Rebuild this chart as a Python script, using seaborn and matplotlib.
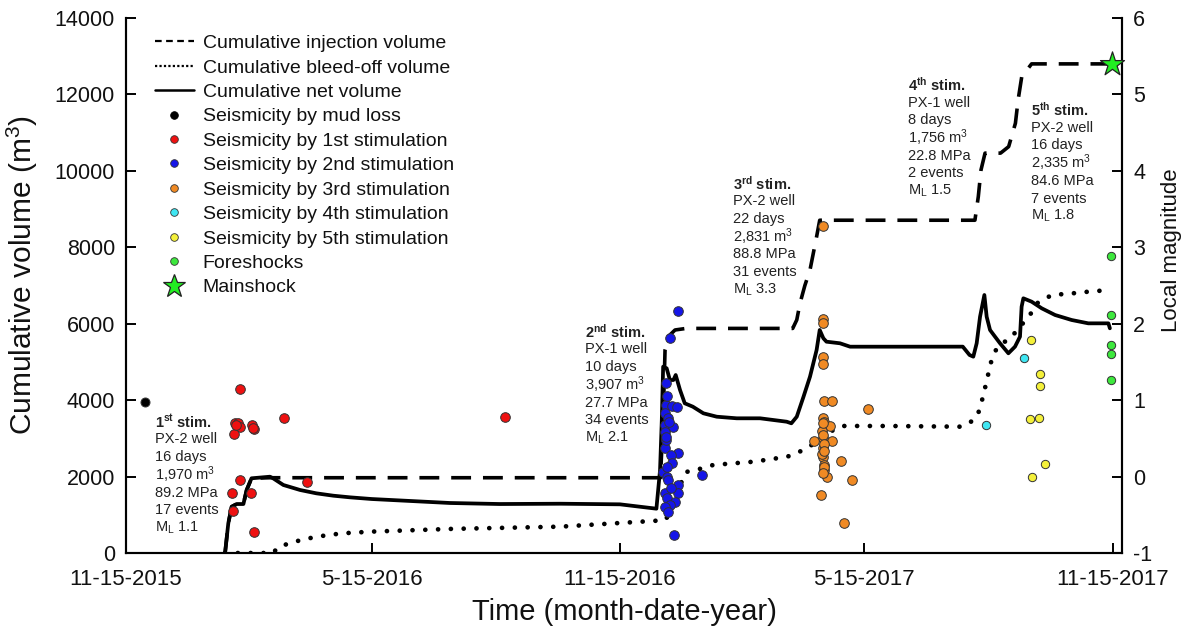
import numpy as np
import pandas as pd
import matplotlib
matplotlib.use("Agg")
import matplotlib.pyplot as plt
from matplotlib.lines import Line2D
from matplotlib.ticker import FixedLocator, FixedFormatter
import matplotlib.dates as mdates
import seaborn as sns

START = "2015-11-15"

# ---------------- data (days since 11-15-2015) ----------------
tick_dates = ["2015-11-15", "2016-05-15", "2016-11-15", "2017-05-15", "2017-11-15"]
tick_labels = ["11-15-2015", "5-15-2016", "11-15-2016", "5-15-2017", "11-15-2017"]
vol_ticks = [0, 2000, 4000, 6000, 8000, 10000, 12000, 14000]
mag_ticks = [-1, 0, 1, 2, 3, 4, 5, 6]

inj_days = [73.4, 75.8, 78.3, 82, 87, 89.4, 93, 106.7, 396, 398, 399.4, 403, 406.8, 415,
            494, 497, 499.4, 503, 506.8, 511.7, 514, 629, 631.5, 633.5, 636.5, 648, 654,
            659, 661, 663.7, 671, 731]
inj_vol = [0, 777, 1212, 1282, 1282, 1649, 1955, 1970, 1970, 3500, 5312, 5705, 5836, 5877,
           5877, 6100, 6534, 7000, 7406, 8278, 8708, 8708, 9324, 10023, 10464, 10464, 10634,
           11245, 11855, 12465, 12799, 12799]

bleed_days = [73.4, 109, 113, 127, 141, 160, 182, 240, 322, 393, 400, 405, 410, 413, 416, 425,
              435, 450, 465, 490, 502, 512, 524, 532, 564, 618, 625, 631, 635, 638, 641, 645,
              650, 656, 663, 669, 675, 686, 700, 713, 729]
bleed_vol = [0, 0, 165, 314, 427, 515, 560, 630, 690, 845, 870, 1250, 1650, 2041, 2128, 2200,
             2303, 2347, 2389, 2520, 2695, 2913, 3219, 3324, 3324, 3306, 3400, 3600, 4090, 4550,
             5000, 5350, 5500, 5650, 5950, 6184, 6534, 6752, 6790, 6838, 6883]

net_days = [73.4, 75.8, 78.3, 82, 87, 89.4, 93, 106.7, 109, 116.6, 129, 141, 153.6, 166, 182,
            240, 277, 322, 366, 393, 395.7, 397, 398, 400.6, 403, 405.6, 407.3, 410.5, 414, 420,
            427.8, 437.7, 452.5, 469.8, 489.5, 493, 497, 502, 506.8, 511.7, 514, 516.7, 519, 529,
            536.5, 573.5, 620, 625, 627.8, 630.3, 632.8, 636, 637.7, 640.2, 643.9, 647.6, 653.8,
            658.7, 662.4, 663.6, 664.9, 671, 678.5, 688.4, 700.7, 713, 727.9, 729]
net_vol = [0, 777, 1212, 1282, 1282, 1649, 1955, 1997, 1955, 1780, 1649, 1562, 1500, 1457, 1413,
           1309, 1282, 1290, 1274, 1160, 2172, 3480, 4876, 4833, 4527, 4527, 4658, 4266, 3918, 3829,
           3656, 3567, 3525, 3525, 3436, 3394, 3567, 4090, 4614, 5312, 5836, 5619, 5530, 5488,
           5399, 5399, 5400, 5182, 5138, 5488, 6184, 6752, 6184, 5836, 5661, 5488, 5226,
           5400, 5661, 6446, 6665, 6577, 6403, 6228, 6097, 6010, 6010, 5880]

mud_days = [14]
mud_ml = [0.98]
s1_days = [84.5, 117, 80.8, 83, 84.5, 80, 93.4, 94.6, 84.5, 78.8, 92.6, 79.5, 94.6, 133.9, 281,
           81.5, 93.8]
s1_ml = [1.15, 0.76, 0.70, 0.70, 0.65, 0.56, 0.68, 0.62, -0.05, -0.22, -0.21, -0.45, -0.73, -0.07,
         0.78, 0.68, 0.64]
s2_days = [409.3, 403, 400, 400, 404.3, 408.5, 399.4, 401.8, 399.4, 405, 399.4, 399.4, 409.3,
           403.5, 404.3, 397.7, 401, 401.8, 426.6, 409.3, 409.3, 399.4, 400.6, 406.8, 403,
           399.4, 401.8, 406, 400.5, 402, 399.8, 401.2, 403.8, 400.2]
s2_ml = [2.16, 1.81, 1.23, 0.94, 0.92, 0.91, 0.83, 0.76, 0.67, 0.65, 0.58, 0.37, 0.31, 0.28, 0.18,
         0.06, 0.0, -0.05, 0.02, -0.11, -0.21, -0.21, -0.28, -0.33, -0.37, -0.40, -0.46, -0.76,
         1.05, 0.72, 0.48, 0.12, -0.15, 0.52]
s3_days = [516.2, 516.7, 516.7, 516.2, 516.2, 517.2, 523.4, 550, 516.7, 517.4, 521.6, 515.4,
           516.7, 510, 523.4, 516.7, 516.7, 529.8, 517.2, 517.2, 519.2, 538.2, 515, 532,
           516.5, 517, 516, 517.5, 516.8, 517.1, 516.4]
s3_ml = [3.28, 2.06, 2.01, 1.57, 1.47, 0.99, 0.99, 0.89, 0.76, 0.72, 0.66, 0.59, 0.50, 0.46, 0.46,
         0.37, 0.26, 0.21, 0.15, 0.09, 0.0, -0.05, -0.24, -0.61, 0.55, 0.42, 0.30, 0.12, 0.70,
         0.33, 0.05]
s4_days = [637, 665.4]
s4_ml = [0.67, 1.55]
s5_days = [670.6, 677.2, 677.2, 669.8, 676.7, 681, 671.1]
s5_ml = [1.79, 1.34, 1.18, 0.75, 0.77, 0.16, 0.0]
fore_days = [729.5, 729.5, 729.5, 729.5, 729.5]
fore_ml = [2.88, 2.12, 1.72, 1.61, 1.26]
main_days = [730.5]
main_ml = [5.4]

# annotation blocks: anchor (day, volume) of first line
ann_days = [21.5, 340.1, 450, 579.7, 670.6]
ann_vols = [3436, 5791, 9675, 12248, 11593]
ann_lines = [
    ["1$^{\\mathbf{st}}$ stim.", "PX-2 well", "16 days", "1,970 m$^3$", "89.2 MPa", "17 events", "M$_\\mathrm{L}$ 1.1"],
    ["2$^{\\mathbf{nd}}$ stim.", "PX-1 well", "10 days", "3,907 m$^3$", "27.7 MPa", "34 events", "M$_\\mathrm{L}$ 2.1"],
    ["3$^{\\mathbf{rd}}$ stim.", "PX-2 well", "22 days", "2,831 m$^3$", "88.8 MPa", "31 events", "M$_\\mathrm{L}$ 3.3"],
    ["4$^{\\mathbf{th}}$ stim.", "PX-1 well", "8 days", "1,756 m$^3$", "22.8 MPa", "2 events", "M$_\\mathrm{L}$ 1.5"],
    ["5$^{\\mathbf{th}}$ stim.", "PX-2 well", "16 days", "2,335 m$^3$", "84.6 MPa", "7 events", "M$_\\mathrm{L}$ 1.8"],
]

legend_labels = ["Cumulative injection volume", "Cumulative bleed-off volume", "Cumulative net volume",
                 "Seismicity by mud loss", "Seismicity by 1st stimulation", "Seismicity by 2nd stimulation",
                 "Seismicity by 3rd stimulation", "Seismicity by 4th stimulation", "Seismicity by 5th stimulation",
                 "Foreshocks", "Mainshock"]


def to_dates(days):
    return pd.Timestamp(START) + pd.to_timedelta(np.asarray(days, dtype=float), unit="D")


# ---------------- style ----------------
sns.set_style("ticks")
plt.rcParams["font.family"] = ["Liberation Sans", "DejaVu Sans"]
plt.rcParams["mathtext.fontset"] = "custom"
plt.rcParams["mathtext.rm"] = "Liberation Sans"
plt.rcParams["mathtext.it"] = "Liberation Sans:italic"
plt.rcParams["mathtext.bf"] = "Liberation Sans:bold"
plt.rcParams["mathtext.sf"] = "Liberation Sans"

fig = plt.figure(figsize=(11.92, 6.29), dpi=100)
ax = fig.add_axes([0.1057, 0.1208, 0.8356, 0.8506])
ax2 = ax.twinx()

# lines
sns.lineplot(x=to_dates(inj_days), y=inj_vol, ax=ax, color="black", lw=2.6, estimator=None,
             sort=False, linestyle=(0, (5.5, 3.3)))
sns.lineplot(x=to_dates(bleed_days), y=bleed_vol, ax=ax, color="black", lw=3.4, estimator=None,
             sort=False, linestyle=(0, (0.01, 2.7)), dash_capstyle="round")
sns.lineplot(x=to_dates(net_days), y=net_vol, ax=ax, color="black", lw=2.7, estimator=None,
             sort=False)

# seismicity
EDGE = "#333333"
groups = [
    (mud_days, mud_ml, "black", 42, "o"),
    (s1_days, s1_ml, "#ee1111", 48, "o"),
    (s2_days, s2_ml, "#1515e8", 48, "o"),
    (s3_days, s3_ml, "#f08a24", 48, "o"),
    (s4_days, s4_ml, "#3fe6f2", 36, "o"),
    (s5_days, s5_ml, "#f4f03a", 36, "o"),
    (fore_days, fore_ml, "#3de83d", 36, "o"),
]
for d, m, c, s, mk in groups:
    sns.scatterplot(x=to_dates(d), y=m, ax=ax2, color=c, edgecolor=EDGE, linewidth=0.7, s=s,
                    marker=mk, zorder=3, legend=False)
sns.scatterplot(x=to_dates(main_days), y=main_ml, ax=ax2, color="#22ee22", edgecolor="#222222",
                linewidth=0.9, s=330, marker="*", zorder=4, legend=False, clip_on=False)

# axes limits / ticks
ax.set_xlim(pd.Timestamp(START), pd.Timestamp(START) + pd.Timedelta(days=738))
ax.set_ylim(0, 14000)
ax2.set_ylim(-1, 6)
ax.xaxis.set_major_locator(FixedLocator(mdates.date2num(pd.to_datetime(tick_dates))))
ax.xaxis.set_major_formatter(FixedFormatter(tick_labels))
ax.set_yticks(vol_ticks)
ax.set_yticklabels([str(v) for v in vol_ticks])
ax2.set_yticks(mag_ticks)
ax2.set_yticklabels([str(v) for v in mag_ticks])

for a in (ax, ax2):
    a.spines["top"].set_visible(False)
    for sp in ("left", "right", "bottom"):
        a.spines[sp].set_linewidth(1.5)
        a.spines[sp].set_color("black")
    a.grid(False)
ax.tick_params(axis="both", direction="in", length=7, width=1.4, colors="black", labelcolor="#111111")
ax.tick_params(axis="x", labelsize=16, pad=11.5)
ax.tick_params(axis="y", labelsize=15.5, pad=8)
ax2.tick_params(axis="y", direction="in", length=7, width=1.4, labelsize=15.5, pad=8,
                colors="black", labelcolor="#111111")

ax.set_xlabel("Time (month-date-year)", fontsize=21, labelpad=6, color="#111111")
ax.set_ylabel("Cumulative volume (m$^3$)", fontsize=21.5, color="#111111")
ax.yaxis.label.set_verticalalignment("center")
ax.yaxis.set_label_coords(-0.104, 0.52)
ax2.set_ylabel("Local magnitude", fontsize=16, color="#111111")
ax2.yaxis.label.set_verticalalignment("center")
ax2.yaxis.set_label_coords(1.050, 0.566)

# annotations
for d, v, lines in zip(ann_days, ann_vols, ann_lines):
    for i, t in enumerate(lines):
        ax.annotate(t, xy=(to_dates([d])[0], v), xytext=(0, -12.75 * i), textcoords="offset points",
                    ha="left", va="center", fontsize=10.5, color="#222222",
                    fontweight="bold" if i == 0 else "normal", zorder=5)

# legend
handles = [
    Line2D([], [], color="black", lw=1.6, linestyle=(0, (3, 2))),
    Line2D([], [], color="black", lw=1.6, linestyle=(0, (1, 1))),
    Line2D([], [], color="black", lw=1.8),
]
for col in ["black", "#ee1111", "#1515e8", "#f08a24", "#3fe6f2", "#f4f03a", "#3de83d"]:
    handles.append(Line2D([], [], ls="", marker="o", markersize=5.5, markerfacecolor=col,
                          markeredgecolor=EDGE if col != "black" else "black", markeredgewidth=0.6))
handles.append(Line2D([], [], ls="", marker="*", markersize=17, markerfacecolor="#22ee22",
                      markeredgecolor="#222222", markeredgewidth=0.9))
ax2.legend(handles, legend_labels, loc="upper left", bbox_to_anchor=(0.029, 0.969), frameon=False,
           fontsize=14, labelspacing=0.35, handlelength=2.0, handletextpad=0.45, borderpad=0,
           borderaxespad=0, labelcolor="#111111")

fig.savefig("out.png", dpi=100)
